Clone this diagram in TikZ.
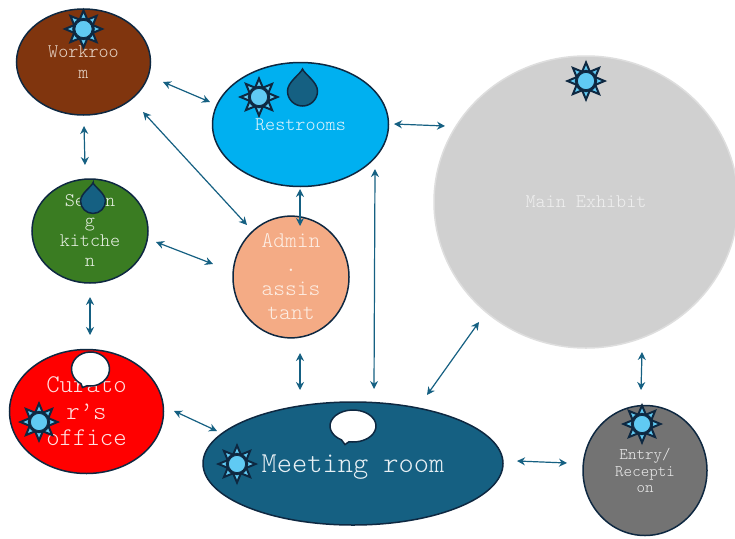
\documentclass[tikz,border=0pt]{standalone}
\usepackage{fontspec}
\setmonofont{Latin Modern Mono Light}
\usetikzlibrary{shapes.geometric,arrows.meta}
\definecolor{edgeblue}{HTML}{156082}
\definecolor{darkline}{HTML}{0E2841}
\definecolor{sunlight}{HTML}{60CAF3}
\tikzset{
  room/.style n args={2}{ellipse,draw=darkline,line width=1.5pt,inner sep=0pt,align=center,minimum width=#1,minimum height=#2},
  link/.style={edgeblue,line width=1.2pt,{Stealth[length=8pt,width=8pt]}-{Stealth[length=8pt,width=8pt]}},
  pics/sunicon/.style={code={
    \foreach \a in {0,45,...,315}{
      \filldraw[fill=sunlight,draw=darkline,line width=2pt,line join=miter,miter limit=10] (\a-23:10) -- (\a:18.5) -- (\a+23:10) -- cycle;
    }
    \filldraw[fill=darkline,draw=darkline] (0,0) circle[radius=11];
    \filldraw[fill=sunlight,draw=darkline,line width=0.8pt] (0,0) circle[radius=8.6];
  }},
  pics/dropicon/.style={code={
    \filldraw[fill=edgeblue,draw=darkline,line width=1.5pt,scale=#1]
      (0,-22) .. controls (2,-17) and (15,-9) .. (15,0)
      .. controls (15,8.3) and (8.3,15) .. (0,15)
      .. controls (-8.3,15) and (-15,8.3) .. (-15,0)
      .. controls (-15,-9) and (-2,-17) .. cycle;
  }},
  pics/bubbleicon/.style n args={2}{code={
    \filldraw[fill=white,draw=darkline,line width=1.5pt]
      (120:#1 and #2) arc[start angle=120,end angle=460,x radius=#1,y radius=#2] -- (-8,18.5) -- cycle;
  }}
}
\newcommand{\txt}[2]{\fontsize{#1}{#2}\ttfamily\selectfont}
\begin{document}
\begin{tikzpicture}[x=1pt,y=-1pt]
\useasboundingbox[fill=white] (0,0) rectangle (735,538);

\node[room={134pt}{106pt},fill={rgb,255:red,128;green,53;blue,14},text={rgb,255:red,232;green,214;blue,200},font=\txt{19.2pt}{21pt}] (workroom) at (83.5,62) {Workroo\\m};
\node[room={176pt}{124pt},fill={rgb,255:red,0;green,176;blue,240},text={rgb,255:red,224;green,244;blue,252},font=\txt{19.2pt}{21pt}] (restrooms) at (300.5,124.5) {Restrooms};
\node[room={304pt}{292pt},draw={rgb,255:red,222;green,222;blue,222},fill={rgb,255:red,208;green,208;blue,208},text={rgb,255:red,240;green,240;blue,240},font=\txt{19.2pt}{21pt}] (exhibit) at (586,202) {Main Exhibit};
\node[room={116pt}{104pt},fill={rgb,255:red,58;green,124;blue,34},text={rgb,255:red,232;green,240;blue,228},font=\txt{19.2pt}{20pt}] (sewing) at (90,231) {Sewin\\g\\kitche\\n};
\node[room={116pt}{104pt},fill={rgb,255:red,244;green,171;blue,133},text={rgb,255:red,253;green,238;blue,228},font=\txt{22.4pt}{24pt}] (admin) at (291,277) {Admin\\.\\assis\\tant};
\node[room={154pt}{124pt},fill=red,text={rgb,255:red,255;green,225;blue,225},font=\txt{25.5pt}{26.5pt}] (curator) at (86.5,411.5) {Curato\\r’s\\office};
\node[room={300pt}{123pt},fill=edgeblue,text={rgb,255:red,232;green,240;blue,244},font=\txt{29pt}{30pt}] (meeting) at (353,463.5) {\rule{0pt}{25pt}Meeting room};
\node[room={124pt}{130pt},fill={rgb,255:red,115;green,115;blue,115},text={rgb,255:red,235;green,235;blue,235},font=\txt{16.2pt}{16.5pt}] (entry) at (645,470.5) {Entry/\\Recepti\\on};

\pic at (83.5,29) {sunicon};
\pic at (259,97) {sunicon};
\pic at (586,81) {sunicon};
\pic at (39,422) {sunicon};
\pic at (237,464) {sunicon};
\pic at (642,424) {sunicon};
\pic at (302.5,91) {dropicon=1};
\pic at (93,201) {dropicon=0.83};
\pic at (90.5,369) {bubbleicon={19}{17}};
\pic at (353,426) {bubbleicon={23}{16}};

\coordinate (a1) at (163,82);   \coordinate (b1) at (210,102);
\coordinate (a2) at (84,126);   \coordinate (b2) at (85,165);
\coordinate (a3) at (143,112);  \coordinate (b3) at (247,225);
\coordinate (a4) at (156,242);  \coordinate (b4) at (213,264);
\coordinate (a5) at (90,297);   \coordinate (b5) at (90,335);
\coordinate (a6) at (300,189);  \coordinate (b6) at (300,226);
\coordinate (a7) at (300,353);  \coordinate (b7) at (300,390);
\coordinate (a8) at (375,169);  \coordinate (b8) at (374,389);
\coordinate (a9) at (394,124);  \coordinate (b9) at (445,126);
\coordinate (a10) at (479,322); \coordinate (b10) at (427,395);
\coordinate (a11) at (174,411); \coordinate (b11) at (217,431);
\coordinate (a12) at (517,461); \coordinate (b12) at (567,463);
\coordinate (a13) at (642,352); \coordinate (b13) at (641,390);
\foreach \i in {1,...,13}{\draw[link] (a\i) -- (b\i);}
\end{tikzpicture}
\end{document}
